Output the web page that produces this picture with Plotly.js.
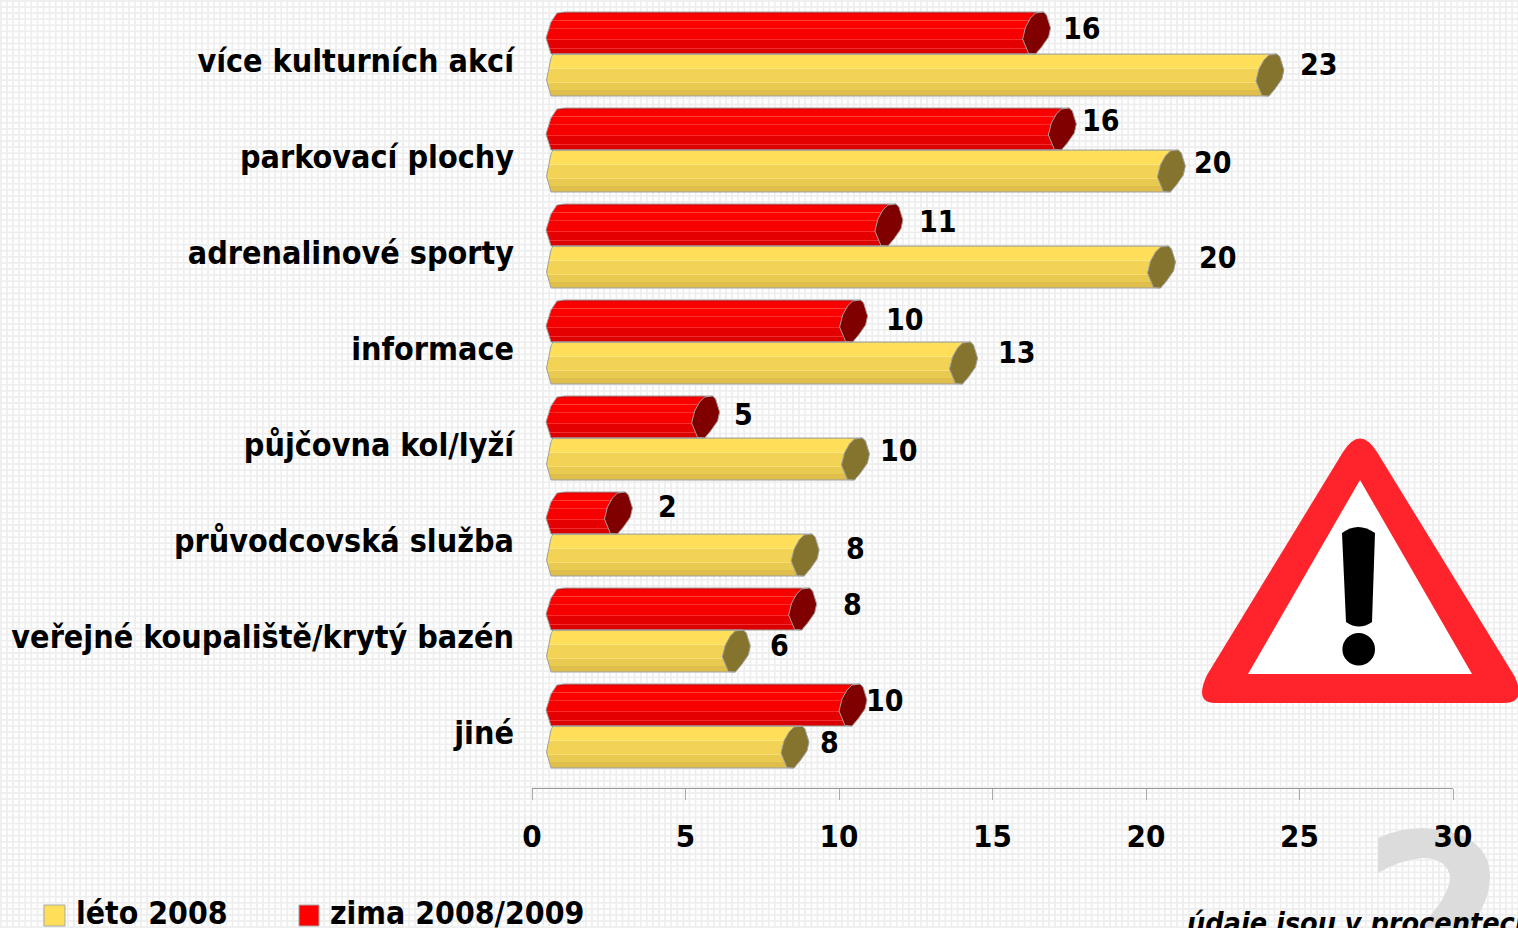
<!DOCTYPE html>
<html>
<head>
<meta charset="utf-8">
<script src="https://cdn.plot.ly/plotly-3.0.1.min.js"></script>
<style>
html,body{margin:0;padding:0;width:1518px;height:928px;overflow:hidden;background-color:#fff;
background-image:linear-gradient(to right,#eeeeee 1.4px,transparent 1.4px),linear-gradient(to bottom,#eeeeee 1.4px,transparent 1.4px);
background-size:6.1px 6.1px;}
#chart{width:1518px;height:928px;}
</style>
</head>
<body>
<div id="chart"></div>
<script>
const categories = ["více kulturních akcí","parkovací plochy","adrenalinové sporty","informace","půjčovna kol/lyží","průvodcovská služba","veřejné koupaliště/krytý bazén","jiné"];
const winterValues = [15.98,16.82,11.17,10.02,5.2,2.36,8.36,10.0];
const summerValues = [23.58,20.37,20.05,13.6,10.08,8.44,6.2,8.11];
const winterLabels = ["16","16","11","10","5","2","8","10"];
const summerLabels = ["23","20","20","13","10","8","6","8"];
const winterLabelDx = [45.5,38.5,49,51.5,37.5,49.5,49.5,32];
const winterLabelDy = [-5,-9,-4,-2,-3,-7,-5,-5];
const summerLabelDx = [49,41.5,56.5,53.5,43.5,50,43.5,35];
const summerLabelDy = [-11,-9,-10,-11,-9,-7,-6,-5];
const xTicks = [0,5,10,15,20,25,30];

const FONT = '"DejaVu Sans Condensed","DejaVu Sans",sans-serif';
const L = 532, R = 1453, AXY = 788, ROW = 96, BARH = 42, FIRST = 54;
const uX = 30 / (R - L), uY = 1 / ROW, DEPTH = 14 * uX;

function seg(list){const o=[];list.forEach(([n,c])=>{for(let i=0;i<n;i++)o.push(c)});return o;}
const winterShades = seg([[2,"#e60000"],[6,"#fb0000"],[1,"#ff4040"],[7,"#ff0000"],[1,"#ff3030"],[10,"#f60000"],[1,"#ff2a2a"],[8,"#e40000"],[1,"#f03030"],[5,"#da0000"]]);
const summerShades = seg([[1,"#e6cc6a"],[13,"#ffde59"],[1,"#ffe77c"],[13,"#f2d355"],[1,"#f8de72"],[7,"#e8ca50"],[6,"#dfbe4b"]]);
const winterEdge = [[19,0],[11,1],[5,10],[0,26],[5,42]];
const summerEdge = [[7,0],[5,4],[0.5,26],[5,42]];
const capPts = [[7,0],[10,3],[14,16],[12,25],[5,35],[-1,42],[-8,41.5],[-14,27],[-11,15],[-6,6],[-1,1]];

function edgeAt(e,row){
  for(let i=0;i<e.length-1;i++){
    if(row>=e[i][1]&&row<=e[i+1][1]){
      const t=(row-e[i][1])/(e[i+1][1]-e[i][1]);
      return e[i][0]+t*(e[i+1][0]-e[i][0]);
    }
  }
  return e[e.length-1][0];
}

function bandTraces(values,shades,edge,top,name){
  return shades.map((c,r)=>{
    const base=DEPTH+edgeAt(edge,r+0.5)*uX;
    return {type:"bar",orientation:"h",y:categories,
      x:values.map(v=>v+DEPTH-base),base:values.map(()=>base),
      offset:(top+r)*uY,width:uY,
      marker:{color:c,line:{width:0}},showlegend:false,name:name,hoverinfo:"skip"};
  });
}
const traces = bandTraces(winterValues,winterShades,winterEdge,-BARH,"zima 2008/2009")
  .concat(bandTraces(summerValues,summerShades,summerEdge,0,"léto 2008"));

const shapes = [];
const PX=x=>(x-L)/(R-L), PY=y=>1-y/AXY;
function paperPath(d){
  return d.replace(/([MLQCZ])([^MLQCZ]*)/g,(m,c,a)=>{
    const n=a.trim().split(/[ ,]+/).filter(Boolean).map(Number);
    return c+n.map((v,i)=>i%2?PY(v):PX(v)).join(",");
  });
}
function addPaper(d,fill,line,layer){
  shapes.push({type:"path",xref:"paper",yref:"paper",path:paperPath(d),fillcolor:fill,line:{width:line?1:0,color:line||fill},layer:layer||"above"});
}
// pale watermark glyph behind the axis labels
addPaper("M1378 838 Q1400 828 1423 828 Q1490 832 1490 877 Q1490 900 1470 928 L1420 928 Q1450 895 1450 877 Q1447 858 1422 858 Q1400 860 1378 873 Z","#dcdcdc",null,"below");
// warning triangle
addPaper("M1343 452 Q1360 425 1377 452 L1515 677 Q1526 703 1505 703 L1215 703 Q1194 703 1207 675 Z","#ff242c");
addPaper("M1360 480 L1472 674 L1248 674 Z","#ffffff");
addPaper("M1342 533 Q1358 521 1375 533 L1372 622 Q1359 631 1346 622 Z","#000000");
shapes.push({type:"circle",xref:"paper",yref:"paper",x0:PX(1342.4),x1:PX(1375),y0:PY(633),y1:PY(665.6),fillcolor:"#000",line:{width:0}});
// legend swatches
addPaper("M44 905 L65 905 L65 926 L44 926 Z","#ffdf5a","#a8a8a8");
addPaper("M299 905 L319 905 L319 926 L299 926 Z","#ff0000","#a8a8a8");

function addBarDeco(values,edge,top,capColor){
  values.forEach((v,i)=>{
    const cx=v+DEPTH, y0=i+top*uY;
    const P=(dx,dy)=>[cx+dx*uX,y0+dy*uY];
    const e=edge.map(p=>[DEPTH+p[0]*uX,y0+p[1]*uY]);
    const a=P(7,0), b=P(-1,BARH);
    let d="M"+a.join(",");
    e.forEach(p=>{d+="L"+p.join(",")});
    d+="L"+b.join(",");
    shapes.push({type:"path",xref:"x",yref:"y",path:d,line:{color:"#a0a0a0",width:1}});
    const c=capPts.map(q=>P(q[0],q[1]));
    shapes.push({type:"path",xref:"x",yref:"y",path:"M"+c.map(p=>p.join(",")).join("L")+"Z",fillcolor:capColor,line:{color:"#a0a0a0",width:1}});
  });
}
addBarDeco(winterValues,winterEdge,-BARH,"#800000");
addBarDeco(summerValues,summerEdge,0,"#85742e");

const labelFont={family:FONT,size:30,color:"#000",weight:700};
const annotations=[];
function addLabels(values,labels,dxs,dys,side){
  values.forEach((v,i)=>annotations.push({xref:"x",yref:"y",x:v+DEPTH,y:i+side*21*uY,text:labels[i],showarrow:false,
    xshift:dxs[i],yshift:-dys[i],xanchor:"center",yanchor:"middle",font:labelFont}));
}
addLabels(winterValues,winterLabels,winterLabelDx,winterLabelDy,-1);
addLabels(summerValues,summerLabels,summerLabelDx,summerLabelDy,1);
const paperNote=(px,py,text,font)=>annotations.push({xref:"paper",yref:"paper",x:PX(px),y:PY(py),text,showarrow:false,xanchor:"left",yanchor:"middle",font});
const legendFont={family:FONT,size:31.7,color:"#000",weight:700};
paperNote(74,913,"léto 2008",legendFont);
paperNote(328,913,"zima 2008/2009",legendFont);
paperNote(1185,923,"<i>údaje jsou v procentech</i>",{family:FONT,size:28.5,color:"#000",weight:700});

const layout={
  width:1518,height:928,margin:{l:L,r:1518-R,t:0,b:928-AXY,pad:0},autosize:false,
  paper_bgcolor:"rgba(0,0,0,0)",plot_bgcolor:"rgba(0,0,0,0)",
  barmode:"overlay",showlegend:false,shapes,annotations,
  font:{family:FONT,color:"#000"},
  xaxis:{range:[0,30],tickvals:xTicks,ticktext:xTicks.map(String),zeroline:false,showgrid:false,showline:true,linecolor:"#999",linewidth:1,
    ticks:"outside",ticklen:11,tickcolor:"#aaa",tickwidth:1,ticklabelstandoff:10,tickfont:{family:FONT,size:31,weight:700,color:"#000"}},
  yaxis:{type:"category",categoryorder:"array",categoryarray:categories,range:[(AXY-FIRST)/ROW,-FIRST/ROW],showgrid:false,zeroline:false,showline:false,
    ticks:"",ticklabelstandoff:17,ticklabelshift:-7,tickfont:{family:FONT,size:32,weight:700,color:"#000"},automargin:false},
};
Plotly.newPlot("chart",traces,layout,{staticPlot:true,displayModeBar:false});
</script>
</body>
</html>
